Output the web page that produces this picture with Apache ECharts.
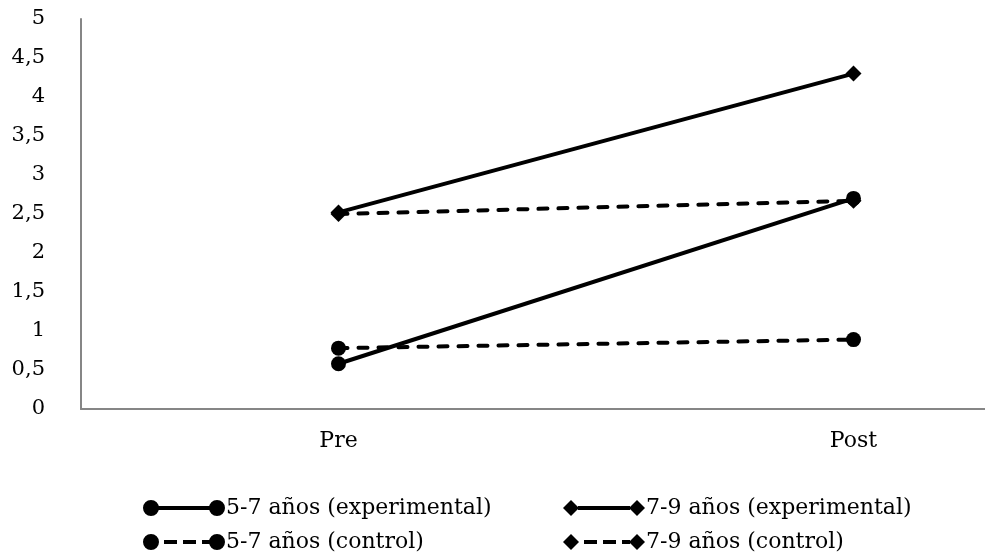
<!DOCTYPE html>
<html>
<head>
<meta charset="utf-8">
<script src="https://cdn.jsdelivr.net/npm/echarts@6/dist/echarts.min.js"></script>
<style>
html,body{margin:0;padding:0;background:#fff;}
#chart{width:985px;height:554px;}
</style>
</head>
<body>
<div id="chart"></div>
<script>
var categories = ['Pre', 'Post'];
var yTicks = [0, 0.5, 1, 1.5, 2, 2.5, 3, 3.5, 4, 4.5, 5];
var names = ['5-7 años (experimental)', '7-9 años (experimental)', '5-7 años (control)', '7-9 años (control)'];
var exp57 = [0.58, 2.7];
var exp79 = [2.52, 4.3];
var ctl57 = [0.78, 0.89];
var ctl79 = [2.5, 2.67];

var FONT = 'DejaVu Serif';
var iconSolidCircle = 'path://M0,8 A8,8 0 1,1 16,8 A8,8 0 1,1 0,8 Z M15,6 H67 V10 H15 Z M66,8 A8,8 0 1,1 82,8 A8,8 0 1,1 66,8 Z';
var iconDashCircle = 'path://M0,8 A8,8 0 1,1 16,8 A8,8 0 1,1 0,8 Z M21,6 H34 V10 H21 Z M40,6 H53 V10 H40 Z M59,6 H67 V10 H59 Z M66,8 A8,8 0 1,1 82,8 A8,8 0 1,1 66,8 Z';
var iconSolidDiamond = 'path://M0,8 L8,0 L16,8 L8,16 Z M15,6 H67 V10 H15 Z M66,8 L74,0 L82,8 L74,16 Z';
var iconDashDiamond = 'path://M0,8 L8,0 L16,8 L8,16 Z M21,6 H34 V10 H21 Z M40,6 H53 V10 H40 Z M59,6 H67 V10 H59 Z M66,8 L74,0 L82,8 L74,16 Z';

function mkLegend(name, icon, left, top) {
  return {
    data: [{name: name, icon: icon}],
    left: left, top: top,
    itemWidth: 82, itemHeight: 16,
    itemStyle: {borderWidth: 0},
    selectedMode: false,
    textStyle: {fontFamily: FONT, fontSize: 22, color: '#000', padding: [0, 0, 0, -4]}
  };
}

function mkSeries(name, data, symbol, size, dashed) {
  return {
    name: name, type: 'line', data: data,
    symbol: symbol, symbolSize: size,
    color: '#000',
    itemStyle: {color: '#000'},
    lineStyle: dashed ? {color: '#000', width: 4, type: [9, 11], cap: 'round'} : {color: '#000', width: 4},
    animation: false, z: dashed ? 2 : 3
  };
}

var chart = echarts.init(document.getElementById('chart'));
chart.setOption({
  backgroundColor: '#fff',
  animation: false,
  grid: {left: 81, top: 19, bottom: 145, right: -126, containLabel: false, outerBoundsMode: 'none'},
  legend: [
    mkLegend(names[0], iconSolidCircle, 138, 492),
    mkLegend(names[1], iconSolidDiamond, 558, 492),
    mkLegend(names[2], iconDashCircle, 138, 526),
    mkLegend(names[3], iconDashDiamond, 558, 526)
  ],
  xAxis: {
    type: 'category', data: categories, boundaryGap: true,
    axisLine: {lineStyle: {color: '#868686', width: 2}},
    axisTick: {show: false},
    axisLabel: {fontFamily: FONT, fontSize: 22, color: '#000', margin: 21}
  },
  yAxis: {
    type: 'value', min: yTicks[0], max: yTicks[yTicks.length - 1], interval: yTicks[1] - yTicks[0],
    axisLine: {show: true, lineStyle: {color: '#868686', width: 2}},
    axisTick: {show: false},
    splitLine: {show: false},
    axisLabel: {fontFamily: FONT, fontSize: 21, color: '#000', margin: 36,
      formatter: function (v) { return String(v).replace('.', ','); }}
  },
  series: [
    mkSeries(names[0], exp57, 'circle', 15, false),
    mkSeries(names[1], exp79, 'diamond', 16, false),
    mkSeries(names[2], ctl57, 'circle', 15, true),
    mkSeries(names[3], ctl79, 'diamond', 16, true)
  ]
});
</script>
</body>
</html>
